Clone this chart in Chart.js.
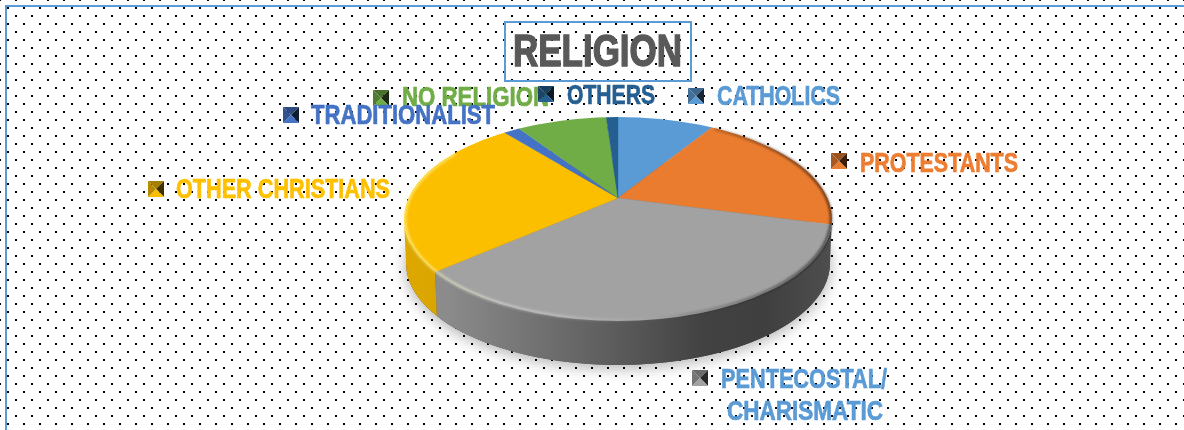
<!DOCTYPE html>
<html lang="en">
<head>
    <meta charset="UTF-8">
    <title>Religion</title>
    <script src="https://cdn.jsdelivr.net/npm/chart.js"></script>
    <style>
        html, body { margin: 0; padding: 0; background: #fff; overflow: hidden; }
        canvas { display: block; }
    </style>
</head>
<body>
    <canvas id="religionPie" width="1184" height="430"></canvas>

    <script>
        // Chart data
        const categories = ['CATHOLICS', 'PROTESTANTS', 'PENTECOSTAL/ CHARISMATIC', 'OTHER CHRISTIANS', 'TRADITIONALIST', 'NO RELIGION', 'OTHERS'];
        const shares = [9, 20.1, 34.7, 25.2, 1.5, 8.4, 1.1];
        const sliceColors = ['#5b9bd5', '#ea7c30', '#a2a2a2', '#fcbf00', '#4472c4', '#70ad47', '#255e91'];
        const labelColors = ['#5b9bd5', '#ed7d31', '#5b9bd5', '#ffc000', '#4472c4', '#70ad47', '#255e91'];

        // Label placement: one row per category, [text, x, baseline, width]
        const labelLines = [
            [['CATHOLICS', 717, 105, 123]],
            [['PROTESTANTS', 860, 172, 158]],
            [['PENTECOSTAL/', 721, 388, 166], ['CHARISMATIC', 727, 420, 156]],
            [['OTHER CHRISTIANS', 176, 198, 214]],
            [['TRADITIONALIST', 311, 124, 184]],
            [['NO RELIGION', 402, 106, 147]],
            [['OTHERS', 567, 104, 88]]
        ];
        const markerSpots = [[688, 88], [831, 153], [692, 370], [148, 181], [283, 107], [373, 90], [538, 86]];
        const drawOrder = [5, 4, 6, 0, 1, 2, 3];

        // Tilted disc: where the top face lands on the canvas
        const apex = { x: 618, y: 198 };
        const topFace = { x: 618, y: 219, rx: 214, ry: 102 };
        const bottomFace = { x: 618, y: 263, rx: 212, ry: 102 };
        const squash = topFace.ry / topFace.rx;

        const labelFont = 'bold 28px "Liberation Sans Narrow", "Liberation Sans", sans-serif';
        const titleFont = 'bold 44px "Liberation Sans Narrow", "Liberation Sans", sans-serif';

        function shade(hex, factor) {
            const n = parseInt(hex.slice(1), 16);
            const r = Math.round(((n >> 16) & 255) * factor);
            const g = Math.round(((n >> 8) & 255) * factor);
            const b = Math.round((n & 255) * factor);
            return `rgb(${r}, ${g}, ${b})`;
        }

        // Parameter on the top ellipse hit by a ray leaving the apex at a chart angle
        function rimParam(angle) {
            const dx = Math.cos(angle);
            const dy = Math.sin(angle) * squash;
            const ax = (apex.x - topFace.x) / topFace.rx;
            const ay = (apex.y - topFace.y) / topFace.ry;
            const ux = dx / topFace.rx;
            const uy = dy / topFace.ry;
            const a = ux * ux + uy * uy;
            const b = 2 * (ax * ux + ay * uy);
            const c = ax * ax + ay * ay - 1;
            const t = (-b + Math.sqrt(b * b - 4 * a * c)) / (2 * a);
            let param = Math.atan2(ay + t * uy, ax + t * ux);
            if (param < -Math.PI / 2 - 0.001) param += Math.PI * 2;
            return param;
        }

        function ellipsePath(ctx, face) {
            ctx.beginPath();
            ctx.ellipse(face.x, face.y, face.rx, face.ry, 0, 0, Math.PI * 2);
        }

        function drawWall(chart) {
            const ctx = chart.ctx;

            // soft shadow under the disc
            ctx.save();
            ctx.shadowColor = 'rgba(0, 0, 0, 0.32)';
            ctx.shadowBlur = 16;
            ctx.shadowOffsetY = 3;
            ctx.fillStyle = '#555';
            ellipsePath(ctx, bottomFace);
            ctx.fill();
            ctx.restore();

            chart.getDatasetMeta(0).data.forEach((arc, i) => {
                const from = Math.max(rimParam(arc.startAngle), 0);
                const to = Math.min(rimParam(arc.endAngle), Math.PI);
                if (to <= from) return;

                const grad = ctx.createLinearGradient(topFace.x - topFace.rx, 0, topFace.x + topFace.rx, 0);
                grad.addColorStop(0, shade(sliceColors[i], 0.88));
                grad.addColorStop(0.1, shade(sliceColors[i], 0.86));
                grad.addColorStop(0.45, shade(sliceColors[i], 0.6));
                grad.addColorStop(0.7, shade(sliceColors[i], 0.41));
                grad.addColorStop(0.84, shade(sliceColors[i], 0.39));
                grad.addColorStop(1, shade(sliceColors[i], 0.48));

                ctx.beginPath();
                ctx.ellipse(topFace.x, topFace.y, topFace.rx, topFace.ry, 0, from, to);
                ctx.ellipse(bottomFace.x, bottomFace.y, bottomFace.rx, bottomFace.ry, 0, to, from, true);
                ctx.closePath();
                ctx.fillStyle = grad;
                ctx.fill();
            });
        }

        // Bevel along the front edge: light on the left, dark on the right
        function drawBevel(ctx) {
            const grad = ctx.createLinearGradient(topFace.x - topFace.rx, 0, topFace.x + topFace.rx, 0);
            grad.addColorStop(0, 'rgba(255, 255, 170, 0.55)');
            grad.addColorStop(0.25, 'rgba(255, 255, 255, 0.34)');
            grad.addColorStop(0.55, 'rgba(255, 255, 255, 0.06)');
            grad.addColorStop(0.66, 'rgba(0, 0, 0, 0.12)');
            grad.addColorStop(1, 'rgba(0, 0, 0, 0.5)');

            ctx.save();
            ctx.filter = 'blur(1.2px)';
            ctx.beginPath();
            ctx.ellipse(topFace.x, topFace.y, topFace.rx - 1, topFace.ry - 1, 0, -1.1, Math.PI + 0.7);
            ctx.strokeStyle = grad;
            ctx.lineWidth = 3;
            ctx.stroke();
            ctx.restore();
        }

        function fittedText(ctx, text, x, baseline, width) {
            const natural = ctx.measureText(text).width;
            ctx.save();
            ctx.translate(x, baseline);
            ctx.scale(width / natural, 1);
            ctx.strokeText(text, 0, 0);
            ctx.fillText(text, 0, 0);
            ctx.restore();
        }

        // Square legend key with four bevelled faces
        function drawMarker(ctx, x, y, color) {
            const s = 16;
            const cx = x + s / 2;
            const cy = y + s / 2;
            const faces = [
                [[x, y], [x + s, y], 0.66],
                [[x + s, y], [x + s, y + s], 0.25],
                [[x + s, y + s], [x, y + s], 1],
                [[x, y + s], [x, y], 0.72]
            ];
            faces.forEach(([p, q, factor]) => {
                ctx.beginPath();
                ctx.moveTo(p[0], p[1]);
                ctx.lineTo(q[0], q[1]);
                ctx.lineTo(cx, cy);
                ctx.closePath();
                ctx.fillStyle = shade(color, factor);
                ctx.fill();
            });
        }

        const piePlugin = {
            id: 'tiltedPie',
            beforeDraw(chart) {
                const ctx = chart.ctx;

                // dotted backdrop
                const tile = document.createElement('canvas');
                tile.width = 16;
                tile.height = 16;
                const tileCtx = tile.getContext('2d');
                tileCtx.fillStyle = '#000';
                tileCtx.fillRect(7, 7, 2, 2);
                tileCtx.fillRect(15, 15, 2, 2);
                tileCtx.fillRect(15, 0, 1, 1);
                tileCtx.fillRect(0, 15, 1, 1);
                tileCtx.fillRect(0, 0, 1, 1);
                ctx.save();
                ctx.fillStyle = '#fff';
                ctx.fillRect(0, 0, chart.width, chart.height);
                ctx.fillStyle = ctx.createPattern(tile, 'repeat');
                ctx.fillRect(0, 0, chart.width, chart.height);

                // outer frame, top and left only
                ctx.strokeStyle = '#5b9bd5';
                ctx.lineWidth = 2;
                ctx.beginPath();
                ctx.moveTo(6, chart.height);
                ctx.lineTo(6, 6);
                ctx.lineTo(chart.width, 6);
                ctx.stroke();
                ctx.restore();
            },
            beforeDatasetsDraw(chart) {
                const ctx = chart.ctx;
                const arc = chart.getDatasetMeta(0).data[0];
                drawWall(chart);

                // slices are drawn flattened and trimmed to the top face
                ctx.save();
                ellipsePath(ctx, topFace);
                ctx.clip();
                ctx.translate(apex.x, apex.y);
                ctx.scale(1, squash);
                ctx.translate(-arc.x, -arc.y);
            },
            afterDatasetsDraw(chart) {
                chart.ctx.restore();
                drawBevel(chart.ctx);
            },
            afterDraw(chart) {
                const ctx = chart.ctx;

                // title box
                ctx.save();
                ctx.strokeStyle = '#5b9bd5';
                ctx.lineWidth = 2;
                ctx.strokeRect(505, 22, 186, 59);
                ctx.fillStyle = '#595959';
                ctx.strokeStyle = '#595959';
                ctx.lineWidth = 1.4;
                ctx.font = titleFont;
                ctx.textBaseline = 'alphabetic';
                fittedText(ctx, 'RELIGION', 513, 66, 169);

                // legend entries sit around the disc
                ctx.font = labelFont;
                ctx.lineWidth = 0.7;
                drawOrder.forEach(i => {
                    drawMarker(ctx, markerSpots[i][0], markerSpots[i][1], sliceColors[i]);
                    ctx.fillStyle = labelColors[i];
                    ctx.strokeStyle = labelColors[i];
                    labelLines[i].forEach(([text, x, baseline, width]) => {
                        fittedText(ctx, text, x, baseline, width);
                    });
                });
                ctx.restore();
            }
        };

        const religionPie = new Chart(document.getElementById('religionPie').getContext('2d'), {
            type: 'pie',
            data: {
                labels: categories,
                datasets: [{
                    data: shares,
                    backgroundColor: sliceColors,
                    borderColor: sliceColors,
                    borderWidth: 0.5,
                    clip: false
                }]
            },
            options: {
                responsive: false,
                animation: false,
                radius: 270,
                events: [],
                plugins: {
                    legend: { display: false },
                    tooltip: { enabled: false }
                }
            },
            plugins: [piePlugin]
        });
    </script>
</body>
</html>
